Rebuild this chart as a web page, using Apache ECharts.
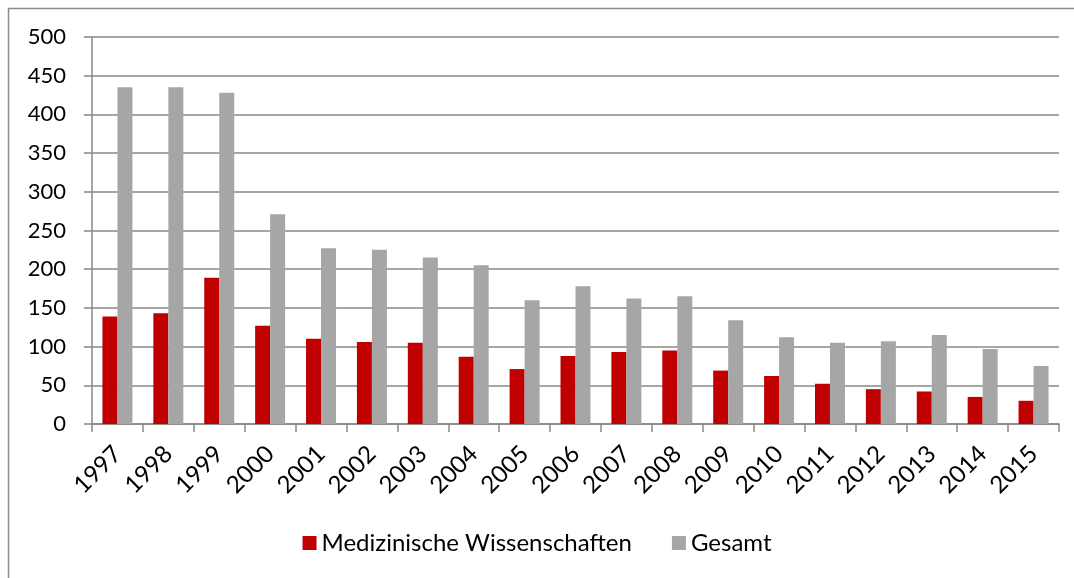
<!DOCTYPE html>
<html>
<head>
<meta charset="utf-8">
<script src="https://cdn.jsdelivr.net/npm/echarts@6/dist/echarts.min.js"></script>
<style>
  html, body { margin: 0; padding: 0; background: #fff; }
  #chart { width: 1074px; height: 578px; }
</style>
</head>
<body>
<div id="chart"></div>
<script>
var years = ['1997', '1998', '1999', '2000', '2001', '2002', '2003', '2004', '2005', '2006',
    '2007', '2008', '2009', '2010', '2011', '2012', '2013', '2014', '2015'];
var medizin = [139, 143, 189, 127, 110, 106, 105, 87, 71, 88, 93, 95, 69, 62, 52, 45, 42, 35, 30];
var gesamt = [435, 435, 428, 271, 227, 225, 215, 205, 160, 178, 162, 165, 134, 112, 105, 107, 115, 97, 75];

~function () {
    var myChart = echarts.init(document.getElementById('chart'));
    var font = 'Lato, "Open Sans", sans-serif';
    var option = {
        animation: false,
        textStyle: {fontFamily: font},
        graphic: [
            {
                type: 'rect',
                shape: {x: 8.5, y: 8.5, width: 1100, height: 600},
                style: {fill: 'none', stroke: '#8c8c8c', lineWidth: 1.5},
                silent: true
            }
        ],
        grid: {
            left: 92,
            right: 15,
            top: 37,
            bottom: 154
        },
        legend: {
            top: 526,
            left: 'center',
            itemWidth: 14,
            itemHeight: 14,
            itemGap: 40,
            icon: 'rect',
            textStyle: {fontSize: 24, color: '#000', fontFamily: font},
            data: ['Medizinische Wissenschaften', 'Gesamt']
        },
        xAxis: {
            type: 'category',
            data: years,
            axisLine: {lineStyle: {color: '#888', width: 1.5}},
            axisTick: {show: true, length: 8, lineStyle: {color: '#888', width: 1.5}},
            axisLabel: {
                rotate: 45,
                fontSize: 24,
                color: '#000',
                margin: 26,
                fontFamily: font
            }
        },
        yAxis: {
            type: 'value',
            min: 0,
            max: 500,
            interval: 50,
            axisLine: {show: true, lineStyle: {color: '#888', width: 1.5}},
            axisTick: {show: true, length: 8, lineStyle: {color: '#888', width: 1.5}},
            axisLabel: {fontSize: 22, color: '#000', margin: 26, fontFamily: font},
            splitLine: {lineStyle: {color: '#888', width: 1.5}}
        },
        series: [
            {
                name: 'Medizinische Wissenschaften',
                type: 'bar',
                data: medizin,
                barWidth: 15,
                barGap: '0%',
                itemStyle: {color: '#c00000'}
            },
            {
                name: 'Gesamt',
                type: 'bar',
                data: gesamt,
                barWidth: 15,
                barGap: '0%',
                itemStyle: {color: '#a6a6a6'}
            }
        ]
    };
    myChart.setOption(option);
}();
</script>
</body>
</html>
